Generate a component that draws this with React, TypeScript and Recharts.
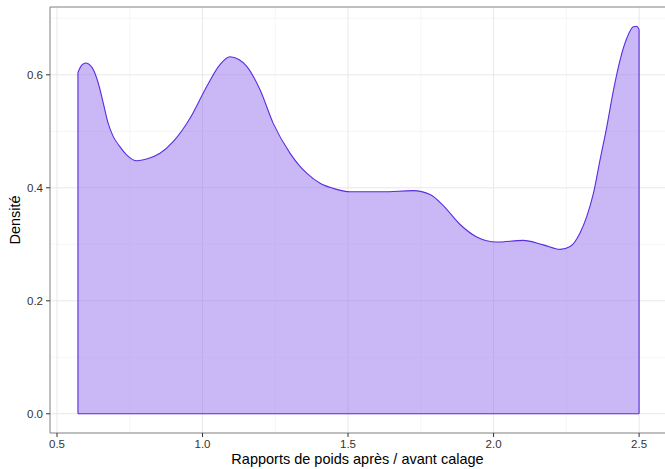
import { AreaChart, Area, XAxis, YAxis, CartesianGrid, ReferenceLine } from 'recharts'

// ratio values (x) and estimated density (y)
const ratios = [
  0.572, 0.585, 0.6, 0.612, 0.625, 0.642, 0.659, 0.676, 0.693, 0.716, 0.74, 0.774, 0.808, 0.854, 0.9, 0.957, 1.014,
  1.06, 1.094, 1.125, 1.152, 1.198, 1.243, 1.301, 1.335, 1.358, 1.404, 1.449, 1.507, 1.621, 1.724, 1.782, 1.828, 1.885,
  1.942, 2.011, 2.102, 2.171, 2.229, 2.263, 2.297, 2.32, 2.343, 2.366, 2.389, 2.412, 2.435, 2.458, 2.48, 2.492, 2.5,
]
const densities = [
  0.604, 0.617, 0.621, 0.618, 0.609, 0.585, 0.55, 0.514, 0.491, 0.473, 0.458, 0.448, 0.451, 0.461, 0.482, 0.523, 0.579,
  0.618, 0.632, 0.627, 0.615, 0.573, 0.514, 0.461, 0.438, 0.426, 0.408, 0.399, 0.393, 0.393, 0.395, 0.388, 0.368, 0.335,
  0.313, 0.304, 0.307, 0.299, 0.291, 0.296, 0.32, 0.349, 0.39, 0.45, 0.508, 0.573, 0.627, 0.665, 0.685, 0.686, 0.68,
]

const xTicks = [0.5, 1.0, 1.5, 2.0, 2.5]
const yTicks = [0, 0.2, 0.4, 0.6]
const xMinor = [0.75, 1.25, 1.75, 2.25]
const yMinor = [0.1, 0.3, 0.5, 0.7]

const X_DOMAIN: [number, number] = [0.476, 2.589]
const Y_DOMAIN: [number, number] = [-0.034, 0.72]

const data = ratios.map((x, i) => ({ x, y: densities[i] }))
const xMin = ratios[0]
const xMax = ratios[ratios.length - 1]

const FILL = '#9371eb'
const LINE = '#5a2ce2'
const BORDER = '#7f7f7f'
const FONT = '"Liberation Sans", Arial, sans-serif'

export default function App() {
  return (
    <div style={{ position: 'absolute', left: 0, top: 0, background: '#fff' }}>
      <AreaChart width={665} height={469} data={data} margin={{ top: 7, right: 0, left: 0, bottom: 0 }}>
        <CartesianGrid stroke="#f6f6f6" verticalValues={xMinor} horizontalValues={yMinor} />
        <CartesianGrid stroke="#e8e8e8" verticalValues={xTicks} horizontalValues={yTicks} />
        <XAxis
          dataKey="x"
          type="number"
          domain={X_DOMAIN}
          allowDataOverflow
          ticks={xTicks}
          tickFormatter={(v: number) => v.toFixed(1)}
          height={36}
          tickSize={4}
          tickMargin={3}
          axisLine={{ stroke: BORDER }}
          tickLine={{ stroke: '#333' }}
          tick={{ fill: '#333', fontSize: 11.5, fontFamily: FONT }}
          label={{
            value: 'Rapports de poids après / avant calage',
            position: 'insideBottom',
            offset: 5,
            style: { fill: '#000', fontSize: 14.5, fontFamily: FONT },
          }}
        />
        <YAxis
          dataKey="y"
          type="number"
          domain={Y_DOMAIN}
          allowDataOverflow
          ticks={yTicks}
          tickFormatter={(v: number) => v.toFixed(1)}
          width={50}
          tickSize={4}
          tickMargin={3}
          axisLine={{ stroke: BORDER }}
          tickLine={{ stroke: '#333' }}
          tick={{ fill: '#333', fontSize: 11.5, fontFamily: FONT }}
          label={(props: any) => {
            const vb = props.viewBox || { y: 7, height: 426 }
            const cy = vb.y + vb.height / 2
            return (
              <text
                x={15}
                y={cy}
                transform={`rotate(-90, 15, ${cy})`}
                textAnchor="middle"
                dominantBaseline="central"
                fill="#000"
                fontSize={14.5}
                fontFamily={FONT}
              >
                Densité
              </text>
            )
          }}
        />
        <Area
          type="monotone"
          dataKey="y"
          baseValue={0}
          fill={FILL}
          fillOpacity={0.5}
          stroke={LINE}
          strokeWidth={1.1}
          isAnimationActive={false}
          dot={false}
          activeDot={false}
        />
        <ReferenceLine segment={[{ x: xMin, y: 0 }, { x: xMax, y: 0 }]} stroke={LINE} strokeWidth={1.1} />
        <ReferenceLine segment={[{ x: xMin, y: 0 }, { x: xMin, y: densities[0] }]} stroke={LINE} strokeWidth={1.1} />
        <ReferenceLine
          segment={[{ x: xMax, y: 0 }, { x: xMax, y: densities[densities.length - 1] }]}
          stroke={LINE}
          strokeWidth={1.1}
        />
        <ReferenceLine y={Y_DOMAIN[1]} stroke={BORDER} />
      </AreaChart>
    </div>
  )
}
